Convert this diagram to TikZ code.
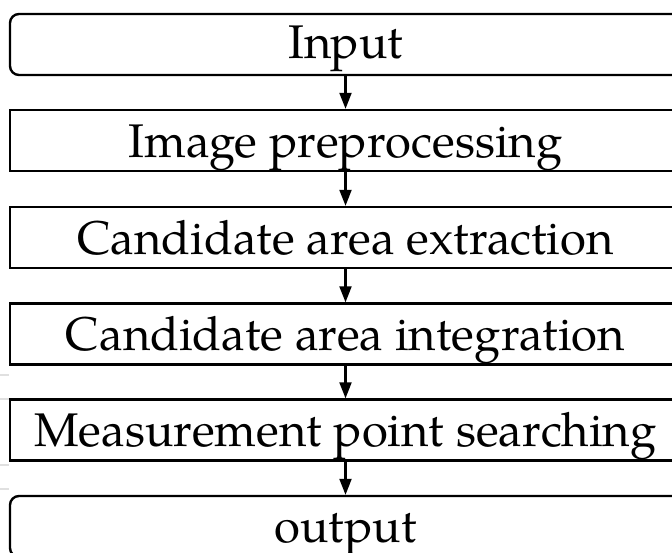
\documentclass[tikz,border=0pt]{standalone}
\usepackage{fontspec}
\setmainfont{TeX Gyre Pagella}
\usetikzlibrary{arrows.meta}
\tikzset{
  stage/.style={draw, line width=2.4pt, minimum width=671pt, minimum height=61pt,
    inner sep=0pt, text height=33pt, text depth=0pt,
    font=\fontsize{47.2}{57}\selectfont},
  terminal/.style={stage, rounded corners=9pt},
  flow/.style={line width=2.2pt, -{Triangle[length=16pt,width=12pt]}},
  scrap/.style={line width=2pt, black!12}
}
\begin{document}
\begin{tikzpicture}[x=1pt,y=-1pt]
  \useasboundingbox (0,0) rectangle (672,552);
  \begin{scope}
    \clip (0,0) rectangle (672,552);
    \node[terminal] (inp)  at (345.5,44.5)  {\raisebox{2.5pt}{Input}};
    \node[stage]    (pre)  at (345.5,140.5) {Image preprocessing};
    \node[stage]    (ext)  at (345.5,237.5) {Candidate area extraction};
    \node[stage]    (intg) at (345.5,334)   {Candidate area integration};
    \node[stage]    (meas) at (345.5,430)   {Measurement point searching};
    \node[terminal] (outp) at (345.5,526.5) {\raisebox{1pt}{output}};
    \draw[flow] (inp)  -- (pre);
    \draw[flow] (pre)  -- (ext);
    \draw[flow] (ext)  -- (intg);
    \draw[flow] (intg) -- (meas);
    \draw[flow] (meas) -- (outp);
    % faint marks along the left margin
    \draw[scrap] (0,375) -- (9,375);
    \draw[scrap] (0,399) -- (9,399);
    \draw[scrap] (0,465) -- (9,465);
    \draw[scrap] (0,489) -- (9,489);
  \end{scope}
\end{tikzpicture}
\end{document}
